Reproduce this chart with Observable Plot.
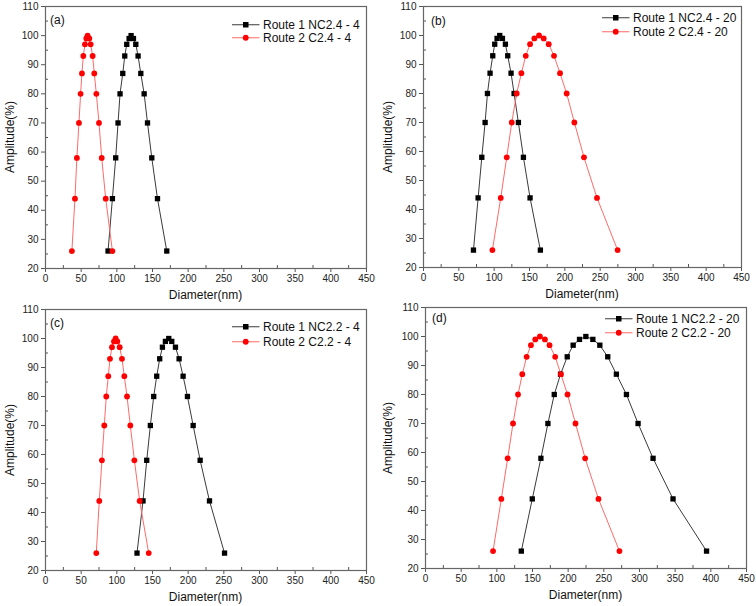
<!DOCTYPE html>
<html><head><meta charset="utf-8">
<script src="https://cdn.jsdelivr.net/npm/d3@7"></script>
<script src="https://cdn.jsdelivr.net/npm/@observablehq/plot@0.6"></script>
<style>
body{margin:0;background:#fff;font-family:"Liberation Sans",Arial,sans-serif;}
#wrap{position:relative;width:756px;height:606px;overflow:hidden;}
.panel{position:absolute;width:378px;height:303px;}
.panel svg{display:block;overflow:visible;}
.t{position:absolute;font-size:12px;color:#111;white-space:nowrap;}
.ylab{position:absolute;font-size:12px;color:#111;white-space:nowrap;transform:translate(-50%,-50%) rotate(-90deg);}
.xlab{position:absolute;font-size:12px;color:#111;white-space:nowrap;transform:translate(-50%,-50%);}
.leg{position:absolute;font-size:12px;color:#111;white-space:nowrap;display:flex;align-items:center;height:14px;}
.leg svg{margin-right:3px;}
</style></head><body><div id="wrap"></div><script>
// Shared amplitude levels (%)
const amplitude = [26,44,58,70,80,87,93,97,99,100,99,97,93,87,80,70,58,44,26];
// Diameters (nm) per series
const aRoute1 = [87.7,93.8,98.4,101.7,104.5,108.3,111.1,113.9,117.2,120,123.3,126.6,129.8,133.6,138.3,143,149,157,170];
const aRoute2 = [37,41.3,44,46.9,49.2,51.1,53,55.3,57.2,59,61.4,63.3,66.1,68.4,71.3,75,78.8,84.4,93.8];
const bRoute1 = [70.7,77.3,82.5,87.2,90.5,94.2,98,100.8,104.1,107.9,111.7,115.9,119.2,123.9,128.2,134.3,141.4,150.8,165.4];
const bRoute2 = [97.5,109.3,117.8,124.9,131.9,138.5,144.7,150.8,156.9,163.5,170.1,177.2,184.7,193.2,202.6,213.5,227.1,245.5,274.7];
const cRoute1 = [128.3,136.7,141.9,147,151.7,155.9,160.1,163.9,168.1,172.8,177,182.2,187.3,192.9,199,207,216.8,229.9,251];
const cRoute2 = [71.2,75.4,79.1,82.4,85.2,88,90.4,93.2,96,98.3,100.7,104,107.2,110.5,114.3,118.9,124.6,132,144.7];
const dRoute1 = [134.3,149.7,161.8,171.6,180.5,189.3,198.7,207,215.9,224.8,234.6,244.4,255.5,267.6,281.7,298,319,347,394];
const dRoute2 = [94.7,106.3,115.2,122.7,129.7,135.7,141.8,147.8,153.9,160.4,167.4,173.9,181.8,189.8,199.1,210.3,223.8,242.5,271.9];
const panelLabels = ["(a)","(b)","(c)","(d)"];
const route1Names = ["Route 1 NC2.4 - 4","Route 1 NC2.4 - 20","Route 1 NC2.2 - 4","Route 1 NC2.2 - 20"];
const route2Names = ["Route 2 C2.4 - 4","Route 2 C2.4 - 20","Route 2 C2.2 - 4","Route 2 C2.2 - 20"];
const xTicks = [0,50,100,150,200,250,300,350,400,450];
const xMinor = [25,75,125,175,225,275,325,375,425];
const yTicks = [20,30,40,50,60,70,80,90,100,110];
const yMinor = [25,35,45,55,65,75,85,95,105];
const xLabel = "Diameter(nm)";
const yLabel = "Amplitude(%)";

const series1 = [aRoute1,bRoute1,cRoute1,dRoute1];
const series2 = [aRoute2,bRoute2,cRoute2,dRoute2];

const layout = [
  {left:0,top:0,m:[6,12,35,45],leg:[232,18,31],pl:[50,13]},
  {left:378,top:0,m:[6,15,36,45],leg:[224,11,25],pl:[53,14]},
  {left:0,top:303,m:[6,12,36,45],leg:[232,17,32],pl:[50,13]},
  {left:378,top:303,m:[4,10,38,47],leg:[227,9,23],pl:[54,8]}
];

const wrap = document.getElementById("wrap");
const BLACK_LINE = "#3a3a3a", RED_LINE = "#ff6a6a", RED = "#ff0000";

function legendItem(x, y, color, lineColor, shape, name) {
  const d = document.createElement("div");
  d.className = "leg";
  d.style.left = x + "px"; d.style.top = y + "px";
  const marker = shape === "square"
    ? `<rect x="11" y="4" width="5.5" height="5.5" fill="${color}"/>`
    : `<circle cx="13.75" cy="6.75" r="2.9" fill="${color}"/>`;
  d.innerHTML = `<svg width="28" height="14"><line x1="0" x2="27.5" y1="6.75" y2="6.75" stroke="${lineColor}" stroke-width="1"/>${marker}</svg><span>${name}</span>`;
  return d;
}

layout.forEach((L, i) => {
  const [mt, mr, mb, ml] = L.m;
  const d1 = amplitude.map((a, j) => ({x: series1[i][j], y: a}));
  const d2 = amplitude.map((a, j) => ({x: series2[i][j], y: a}));
  const plot = Plot.plot({
    width: 378, height: 303,
    marginTop: mt, marginRight: mr, marginBottom: mb, marginLeft: ml,
    style: {fontFamily: "'Liberation Sans', Arial, sans-serif", color: "#222", background: "transparent", overflow: "visible"},
    x: {domain: [0, 450]},
    y: {domain: [20, 110]},
    marks: [
      Plot.axisX({ticks: xTicks, tickSize: 4, tickPadding: 2, fontSize: 10, stroke: "#555", label: null}),
      Plot.axisX({ticks: xMinor, tickSize: 3, dy: -3, tickFormat: () => "", stroke: "#555", label: null}),
      Plot.axisY({ticks: yTicks, tickSize: 4, tickPadding: 3, fontSize: 10, stroke: "#555", label: null}),
      Plot.axisY({ticks: yMinor, tickSize: 3, dx: 3, tickFormat: () => "", stroke: "#555", label: null}),
      Plot.frame({stroke: "#666", strokeWidth: 1.2}),
      Plot.line(d1, {x: "x", y: "y", stroke: BLACK_LINE, strokeWidth: 1}),
      Plot.line(d2, {x: "x", y: "y", stroke: RED_LINE, strokeWidth: 1}),
      Plot.dot(d1, {x: "x", y: "y", symbol: "square", r: 3, fill: "black"}),
      Plot.dot(d2, {x: "x", y: "y", symbol: "circle", r: 2.9, fill: RED})
    ]
  });
  const p = document.createElement("div");
  p.className = "panel";
  p.style.left = L.left + "px"; p.style.top = L.top + "px";
  p.appendChild(plot);
  // axis titles
  const yl = document.createElement("div");
  yl.className = "ylab"; yl.textContent = yLabel;
  yl.style.left = "10px"; yl.style.top = ((mt + 303 - mb) / 2) + "px";
  p.appendChild(yl);
  const xl = document.createElement("div");
  xl.className = "xlab"; xl.textContent = xLabel;
  xl.style.left = ((ml + 378 - mr) / 2) + "px"; xl.style.top = (303 - mb + 27) + "px";
  p.appendChild(xl);
  // panel label
  const pl = document.createElement("div");
  pl.className = "t"; pl.textContent = panelLabels[i];
  pl.style.left = L.pl[0] + "px"; pl.style.top = L.pl[1] + "px";
  p.appendChild(pl);
  // legend
  p.appendChild(legendItem(L.leg[0], L.leg[1], "black", BLACK_LINE, "square", route1Names[i]));
  p.appendChild(legendItem(L.leg[0], L.leg[2], RED, RED_LINE, "circle", route2Names[i]));
  wrap.appendChild(p);
});
</script></body></html>
